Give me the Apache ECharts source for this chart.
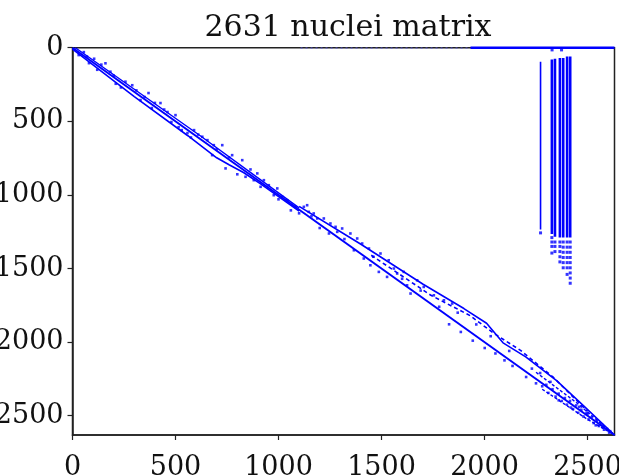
<!DOCTYPE html>
<html><head><meta charset="utf-8">
<script src="https://cdn.jsdelivr.net/npm/echarts@6/dist/echarts.min.js"></script>
<style>html,body{margin:0;padding:0;background:#fff}#c{width:619px;height:476px}</style>
</head><body><div id="c"></div>
<script>
const N = 2631;
const chartTitle = '2631 nuclei matrix';
const tickValues = [0, 500, 1000, 1500, 2000, 2500];

// dense runs of nonzeros, as polylines of [column, row]
const mainDiagonal = [[0, 0], [2631, 2631]];
const earlyLowerBand = [[0, 10], [300, 332], [560, 598], [700, 748], [760, 795], [830, 848], [913, 925], [1100, 1110]];
const earlyUpperBand = [[14, 0], [300, 282], [620, 598], [900, 884], [1100, 1088]];
const upperBandA = [[1100, 1078], [1400, 1335], [1700, 1605], [1900, 1772], [2010, 1872], [2090, 2005], [2200, 2100], [2350, 2262], [2480, 2432], [2631, 2631]];
const upperBandB = [[1450, 1410], [1740, 1682], [1930, 1820], [2045, 1940], [2175, 2056], [2335, 2240], [2500, 2470]];
const lateUpperBand = [[2250, 2205], [2450, 2415], [2631, 2631]];
const lateLowerBand = [[2280, 2320], [2500, 2525], [2631, 2631]];
const topRowSolid = [[1932, 0], [2631, 0]];
const topRowSparse = [[1107, 2], [1932, 2]];

// dense columns: [column, firstRow, lastRow]
const denseColumns = [[2272, 95, 1235], [2327, 80, 1265], [2342, 75, 1285], [2366, 70, 1290], [2382, 70, 1290], [2401, 60, 1290], [2416, 60, 1290]];
const columnTailDots = [
  [2272, 1258],
  [2327, 1290], [2327, 1320], [2327, 1350], [2327, 1395],
  [2342, 1320], [2342, 1350], [2342, 1385],
  [2366, 1320], [2366, 1350], [2366, 1385], [2366, 1420], [2366, 1455],
  [2382, 1320], [2382, 1355], [2382, 1390], [2382, 1425], [2382, 1460], [2382, 1495],
  [2401, 1320], [2401, 1355], [2401, 1390], [2401, 1425], [2401, 1460], [2401, 1495], [2401, 1540],
  [2416, 1320], [2416, 1355], [2416, 1390], [2416, 1425], [2416, 1460], [2416, 1495], [2416, 1530], [2416, 1565], [2416, 1600],
  [2328, 15], [2374, 15]
];

// scattered nonzeros near the diagonal: [column, row]
const scatterDots = [
  [30, 50], [55, 30], [80, 105], [105, 75], [140, 115], [160, 106], [184, 163], [210, 245], [257, 231], [290, 255],
  [330, 356], [369, 308], [400, 375], [427, 376], [461, 437], [480, 505], [500, 458], [530, 560], [558, 580], [590, 560],
  [630, 605], [655, 628], [678, 730], [686, 662], [727, 662], [743, 820], [775, 730], [800, 860], [824, 764], [840, 877],
  [864, 827], [897, 854], [913, 945], [929, 900], [953, 934], [977, 1002], [994, 956], [1018, 1013], [1042, 1036], [1060, 1105],
  [1082, 1081], [1123, 1081], [1139, 1070], [1147, 1115], [1171, 1126], [1188, 1160], [1220, 1160], [1245, 1262], [1252, 1194], [1277, 1217],
  [1285, 1251], [1309, 1228], [1349, 1262], [1366, 1376], [1382, 1296], [1406, 1330], [1414, 1432], [1439, 1364], [1446, 1478], [1487, 1523],
  [1495, 1398], [1527, 1557], [1535, 1444], [1576, 1534], [1608, 1523], [1624, 1614], [1641, 1670], [1673, 1580], [1705, 1625], [1754, 1682],
  [1803, 1716], [1843, 1738], [1828, 1879], [1885, 1931], [1943, 1990], [2001, 2040], [2053, 2077], [2097, 2124], [2136, 2162], [2202, 2237],
  [2250, 2280], [2280, 2300], [2300, 2290], [2310, 2345], [2330, 2320], [2345, 2370], [2360, 2350], [2375, 2400], [2390, 2380], [2400, 2425],
  [2415, 2400], [2430, 2455], [2445, 2430], [2455, 2480], [2470, 2460], [2480, 2505], [2495, 2480], [2505, 2525], [2520, 2510], [2530, 2550],
  [2545, 2535], [2555, 2570], [2570, 2560], [2580, 2595], [2595, 2590], [2605, 2615],
  [70, 60], [120, 150], [200, 190], [235, 270], [310, 290], [350, 335], [385, 410], [445, 420], [515, 540], [575, 610],
  [610, 590], [700, 690], [760, 745], [880, 900], [1000, 1030], [1100, 1125], [1160, 1145], [1200, 1225], [1320, 1300], [1460, 1420],
  [1560, 1500], [1600, 1570], [1690, 1650], [1780, 1760], [1870, 1800], [1960, 1880], [2030, 1960], [2120, 2060], [2230, 2180], [2270, 2210],
  [2320, 2270], [2360, 2395], [2420, 2445], [2460, 2440], [2500, 2490], [2540, 2565], [2575, 2580], [2610, 2605]
];

const BLUE = '#0000ff';
const FONT = 'DejaVu Serif';

function lineSeries(data, width, extra) {
  return Object.assign({
    type: 'line', data: data, showSymbol: false, symbol: 'none', silent: true,
    lineStyle: { color: BLUE, width: width }, z: 3
  }, extra || {});
}

const series = [
  lineSeries(mainDiagonal, 2),
  lineSeries(earlyLowerBand, 1.6),
  lineSeries(earlyUpperBand, 1.4),
  lineSeries(upperBandA, 1.6),
  lineSeries(upperBandB, 1.6, { lineStyle: { color: BLUE, width: 1.6, type: [4, 3] } }),
  lineSeries(lateUpperBand, 1.4, { lineStyle: { color: BLUE, width: 1.4, type: [3, 2] } }),
  lineSeries(lateLowerBand, 1.4, { lineStyle: { color: BLUE, width: 1.4, type: [3, 2] } }),
  lineSeries(topRowSolid, 2.5, { clip: false }),
  lineSeries(topRowSparse, 1.2, { clip: false, lineStyle: { color: '#5a5ad8', width: 1.2, type: [2, 3] } })
];
denseColumns.forEach(function (c, i) {
  series.push(lineSeries([[c[0], c[1]], [c[0], c[2]]], i === 0 ? 1.6 : 2.6));
});
series.push({
  type: 'scatter', data: columnTailDots, symbol: 'rect', symbolSize: 3, silent: true,
  itemStyle: { color: BLUE }, z: 4
});
series.push({
  type: 'scatter', data: scatterDots, symbol: 'rect', symbolSize: 2.6, silent: true,
  itemStyle: { color: BLUE, opacity: 0.8 }, z: 4
});

const plain = function (v) { return String(v); };

const chart = echarts.init(document.getElementById('c'), null, { renderer: 'canvas' });
chart.setOption({
  animation: false,
  backgroundColor: '#fff',
  title: {
    text: chartTitle, left: 343, top: 8, textAlign: 'center',
    textStyle: { fontFamily: FONT, fontSize: 30, fontWeight: 'normal', color: '#111' }
  },
  grid: {
    left: 72.5, top: 47.7, width: 542, height: 387.3, containLabel: false, outerBoundsMode: 'none',
    show: true, borderColor: '#222', borderWidth: 1.5, backgroundColor: 'transparent'
  },
  xAxis: {
    type: 'value', min: 0, max: N, interval: 500, position: 'bottom',
    axisLine: { show: true, onZero: false, lineStyle: { color: '#222', width: 1.5 } },
    axisTick: { show: true, length: 5, customValues: tickValues, lineStyle: { color: '#222', width: 1.2 } },
    axisLabel: { customValues: tickValues, formatter: plain, margin: 19, fontFamily: FONT, fontSize: 27, color: '#111', hideOverlap: false },
    splitLine: { show: false }
  },
  yAxis: {
    type: 'value', min: 0, max: N, interval: 500, inverse: true,
    axisLine: { show: true, onZero: false, lineStyle: { color: '#222', width: 1.5 } },
    axisTick: { show: true, length: 5, customValues: tickValues, lineStyle: { color: '#222', width: 1.2 } },
    axisLabel: { customValues: tickValues, formatter: plain, margin: 9, fontFamily: FONT, fontSize: 27, color: '#111', hideOverlap: false },
    splitLine: { show: false }
  },
  series: series
});
</script>
</body></html>
